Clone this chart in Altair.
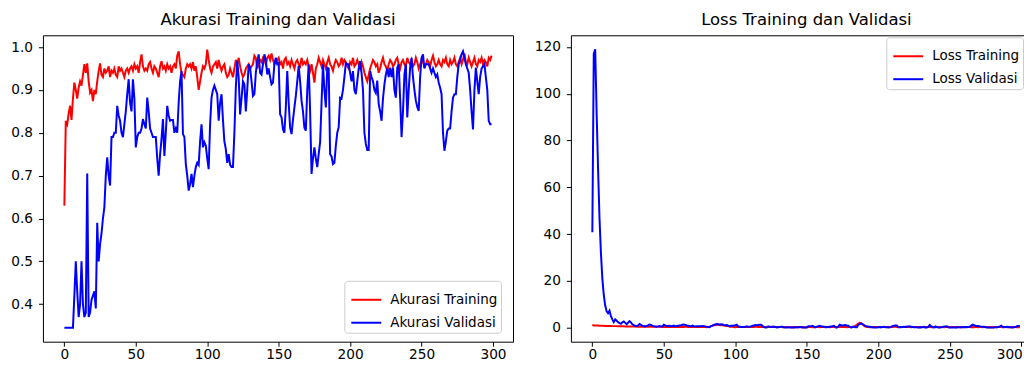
import altair as alt
import pandas as pd

# ---------------- data ----------------
acc_train = [
    0.63, 0.828, 0.82, 0.845, 0.863, 0.83, 0.88, 0.917, 0.90, 0.88,
    0.905, 0.92, 0.91, 0.935, 0.96, 0.94, 0.962, 0.92, 0.894, 0.90,
    0.874, 0.90, 0.89, 0.92, 0.944, 0.962, 0.935, 0.93, 0.95, 0.94,
    0.945, 0.955, 0.93, 0.945, 0.94, 0.95, 0.935, 0.93, 0.955, 0.945,
    0.95, 0.94, 0.93, 0.945, 0.95, 0.94, 0.95, 0.955, 0.945, 0.96,
    0.95, 0.955, 0.94, 0.965, 0.983, 0.955, 0.945, 0.95, 0.945, 0.96,
    0.965, 0.95, 0.94, 0.955, 0.95, 0.94, 0.93, 0.955, 0.967, 0.95,
    0.955, 0.945, 0.96, 0.95, 0.955, 0.94, 0.955, 0.96, 0.95, 0.98,
    0.99, 0.96, 0.94, 0.935, 0.93, 0.95, 0.96, 0.955, 0.96, 0.95,
    0.965, 0.945, 0.955, 0.93, 0.90, 0.92, 0.94, 0.955, 0.95, 0.96,
    0.994, 0.97, 0.95, 0.94, 0.955, 0.96, 0.965, 0.95, 0.97, 0.955,
    0.945, 0.955, 0.96, 0.94, 0.93, 0.935, 0.95, 0.94, 0.93, 0.95,
    0.97, 0.96, 0.975, 0.955, 0.94, 0.93, 0.936, 0.95, 0.955, 0.96,
    0.95, 0.955, 0.96, 0.98, 0.975, 0.95, 0.96, 0.97, 0.965, 0.975,
    0.97, 0.96, 0.975, 0.98, 0.97, 0.985, 0.97, 0.96, 0.965, 0.97,
    0.975, 0.96, 0.965, 0.95, 0.97, 0.975, 0.96, 0.965, 0.955, 0.97,
    0.96, 0.95, 0.965, 0.97, 0.96, 0.955, 0.975, 0.96, 0.965, 0.96,
    0.97, 0.955, 0.945, 0.96, 0.94, 0.917, 0.95, 0.96, 0.975, 0.965,
    0.955, 0.97, 0.96, 0.95, 0.965, 0.975, 0.96, 0.955, 0.945, 0.96,
    0.97, 0.965, 0.955, 0.96, 0.975, 0.96, 0.97, 0.965, 0.955, 0.95,
    0.965, 0.96, 0.975, 0.955, 0.96, 0.97, 0.96, 0.95, 0.965, 0.955,
    0.94, 0.93, 0.92, 0.935, 0.95, 0.96, 0.97, 0.965, 0.955, 0.96,
    0.94, 0.95, 0.965, 0.975, 0.96, 0.955, 0.945, 0.96, 0.97, 0.965,
    0.955, 0.96, 0.97, 0.975, 0.96, 0.95, 0.965, 0.97, 0.96, 0.955,
    0.975, 0.965, 0.96, 0.97, 0.955, 0.96, 0.975, 0.965, 0.95, 0.96,
    0.97, 0.965, 0.955, 0.96, 0.97, 0.965, 0.955, 0.97, 0.98, 0.965,
    0.955, 0.96, 0.97, 0.96, 0.955, 0.97, 0.965, 0.975, 0.96, 0.955,
    0.97, 0.96, 0.965, 0.975, 0.96, 0.955, 0.965, 0.975, 0.96, 0.97,
    0.985, 0.965, 0.96, 0.975, 0.965, 0.955, 0.965, 0.975, 0.96, 0.955,
    0.97, 0.965, 0.975, 0.96, 0.97, 0.965, 0.955, 0.975, 0.97, 0.98,
]

acc_val = [
    0.345, 0.345, 0.345, 0.345, 0.345, 0.345, 0.345, 0.42, 0.50, 0.43,
    0.37, 0.40, 0.50, 0.40, 0.37, 0.38, 0.705, 0.37, 0.38, 0.41,
    0.42, 0.43, 0.39, 0.59, 0.50, 0.54, 0.565, 0.60, 0.626, 0.70,
    0.743, 0.70, 0.677, 0.79, 0.79, 0.80, 0.80, 0.863, 0.84, 0.828,
    0.80, 0.79, 0.82, 0.85, 0.89, 0.925, 0.87, 0.85, 0.925, 0.88,
    0.766, 0.79, 0.80, 0.80, 0.81, 0.832, 0.82, 0.81, 0.882, 0.85,
    0.81, 0.80, 0.79, 0.79, 0.79, 0.74, 0.70, 0.75, 0.785, 0.832,
    0.746, 0.80, 0.863, 0.84, 0.828, 0.83, 0.83, 0.80, 0.81, 0.80,
    0.87, 0.92, 0.944, 0.797, 0.79, 0.727, 0.70, 0.665, 0.68, 0.704,
    0.673, 0.70, 0.72, 0.73, 0.725, 0.78, 0.82, 0.766, 0.778, 0.77,
    0.74, 0.715, 0.82, 0.882, 0.90, 0.91, 0.90, 0.89, 0.828, 0.87,
    0.89, 0.83, 0.78, 0.762, 0.73, 0.75, 0.725, 0.72, 0.72, 0.80,
    0.905, 0.968, 0.929, 0.843, 0.88, 0.92, 0.913, 0.85, 0.90, 0.96,
    0.952, 0.92, 0.886, 0.89, 0.94, 0.967, 0.983, 0.94, 0.936, 0.96,
    0.983, 0.97, 0.936, 0.95, 0.93, 0.913, 0.917, 0.96, 0.975, 0.96,
    0.963, 0.843, 0.836, 0.808, 0.80, 0.86, 0.944, 0.87, 0.812, 0.797,
    0.83, 0.859, 0.886, 0.92, 0.956, 0.92, 0.875, 0.85, 0.812, 0.805,
    0.90, 0.96, 0.85, 0.704, 0.74, 0.766, 0.74, 0.72, 0.75, 0.778,
    0.87, 0.96, 0.90, 0.859, 0.952, 0.95, 0.75, 0.745, 0.727, 0.73,
    0.77, 0.80, 0.813, 0.882, 0.88, 0.90, 0.93, 0.963, 0.96, 0.96,
    0.94, 0.92, 0.944, 0.90, 0.89, 0.92, 0.95, 0.967, 0.94, 0.90,
    0.80, 0.774, 0.76, 0.76, 0.944, 0.93, 0.92, 0.90, 0.893, 0.922,
    0.867, 0.85, 0.828, 0.88, 0.913, 0.936, 0.95, 0.93, 0.952, 0.93,
    0.952, 0.90, 0.882, 0.952, 0.96, 0.88, 0.79, 0.85, 0.936, 0.96,
    0.836, 0.90, 0.952, 0.975, 0.93, 0.90, 0.875, 0.86, 0.851, 0.93,
    0.975, 0.983, 0.95, 0.96, 0.96, 0.96, 0.95, 0.94, 0.95, 0.94,
    0.93, 0.936, 0.917, 0.905, 0.89, 0.80, 0.758, 0.78, 0.805, 0.81,
    0.81, 0.85, 0.882, 0.89, 0.89, 0.93, 0.96, 0.97, 0.983, 0.99,
    0.975, 0.96, 0.95, 0.94, 0.90, 0.85, 0.808, 0.90, 0.952, 0.92,
    0.89, 0.93, 0.95, 0.955, 0.96, 0.93, 0.90, 0.828, 0.82, 0.82,
]

loss_train = [
    1.2, 1.0, 1.0, 0.95, 0.95, 0.9, 0.9, 0.85, 0.85, 0.8,
    0.8, 0.8, 0.75, 0.75, 0.7, 0.7, 0.7, 0.7, 0.65, 0.65,
    0.6, 0.6, 0.6, 0.55, 0.55, 0.55, 0.5, 0.5, 0.5, 0.5,
    0.5, 0.45, 0.5, 0.45, 0.45, 0.45, 0.5, 0.45, 0.4, 0.45,
    0.45, 0.4, 0.45, 0.4, 0.4, 0.45, 0.4, 0.4, 0.4, 0.35,
    0.4, 0.35, 0.4, 0.35, 0.3, 0.35, 0.4, 0.35, 0.4, 0.35,
    0.35, 0.35, 0.4, 0.35, 0.35, 0.4, 0.4, 0.35, 0.3, 0.35,
    0.35, 0.35, 0.3, 0.35, 0.35, 0.4, 0.35, 0.3, 0.35, 0.3,
    0.25, 0.3, 0.4, 0.6, 0.9, 1.1, 1.2, 1.3, 1.4, 1.2,
    1.1, 1.2, 1.0, 0.9, 0.8, 0.7, 0.5, 0.4, 0.4, 0.35,
    0.25, 0.3, 0.35, 0.4, 0.35, 0.3, 0.3, 0.35, 0.3, 0.35,
    0.35, 0.35, 0.3, 0.35, 0.4, 0.4, 0.35, 0.35, 0.4, 0.35,
    0.3, 0.3, 0.25, 0.3, 0.35, 0.4, 0.4, 0.35, 0.3, 0.3,
    0.3, 0.3, 0.3, 0.25, 0.25, 0.3, 0.3, 0.25, 0.25, 0.25,
    0.25, 0.3, 0.25, 0.25, 0.25, 0.2, 0.25, 0.3, 0.25, 0.25,
    0.25, 0.3, 0.3, 0.3, 0.25, 0.25, 0.3, 0.3, 0.3, 0.25,
    0.3, 0.3, 0.3, 0.25, 0.3, 0.3, 0.25, 0.3, 0.3, 0.3,
    0.25, 0.3, 0.3, 0.3, 0.35, 0.4, 0.3, 0.3, 0.25, 0.3,
    0.3, 0.25, 0.3, 0.4, 0.8, 1.3, 1.8, 2.1, 1.9, 1.4,
    0.9, 0.5, 0.35, 0.3, 0.25, 0.3, 0.25, 0.3, 0.3, 0.3,
    0.3, 0.3, 0.25, 0.3, 0.3, 0.25, 0.3, 0.3, 0.3, 0.3,
    0.35, 0.4, 0.4, 0.35, 0.3, 0.3, 0.25, 0.3, 0.3, 0.3,
    0.35, 0.3, 0.3, 0.25, 0.3, 0.3, 0.3, 0.3, 0.25, 0.3,
    0.3, 0.3, 0.25, 0.25, 0.3, 0.3, 0.3, 0.25, 0.3, 0.3,
    0.25, 0.3, 0.3, 0.25, 0.3, 0.3, 0.25, 0.3, 0.3, 0.3,
    0.25, 0.3, 0.3, 0.3, 0.25, 0.3, 0.3, 0.25, 0.2, 0.3,
    0.3, 0.3, 0.25, 0.3, 0.3, 0.25, 0.3, 0.25, 0.3, 0.3,
    0.25, 0.3, 0.3, 0.25, 0.3, 0.3, 0.3, 0.25, 0.3, 0.25,
    0.2, 0.3, 0.3, 0.25, 0.3, 0.3, 0.3, 0.25, 0.3, 0.3,
    0.25, 0.3, 0.25, 0.3, 0.25, 0.3, 0.3, 0.25, 0.25, 0.2,
]

loss_val = [
    40.8, 117, 119, 92, 68, 47, 32, 21, 14, 9.5,
    7.0, 6.2, 7.3, 5.0, 3.6, 2.4, 3.6, 3.0, 2.4, 2.0,
    1.7, 2.3, 2.7, 2.1, 1.5, 2.2, 2.8, 2.3, 1.5, 1.1,
    0.9, 0.8, 1.0, 1.6, 1.2, 0.8, 0.7, 0.6, 0.8, 1.0,
    1.4, 1.2, 0.8, 0.7, 0.5, 0.4, 0.6, 0.7, 0.5, 0.6,
    1.3, 1.0, 0.8, 0.8, 0.9, 0.7, 0.8, 0.9, 0.6, 0.8,
    0.9, 1.0, 1.1, 1.3, 1.4, 1.2, 1.0, 0.9, 0.8, 0.6,
    0.9, 0.7, 0.5, 0.6, 0.6, 0.6, 0.7, 0.8, 0.7, 0.6,
    0.4, 0.3, 0.2, 0.8, 0.9, 1.2, 1.4, 1.6, 1.5, 1.3,
    1.5, 1.4, 1.2, 1.1, 1.2, 0.9, 0.6, 0.9, 0.9, 1.0,
    1.1, 1.3, 0.6, 0.4, 0.3, 0.3, 0.3, 0.4, 0.6, 0.4,
    0.4, 0.6, 0.9, 1.0, 1.2, 1.1, 1.2, 1.3, 1.3, 0.8,
    0.3, 0.1, 0.2, 0.6, 0.4, 0.3, 0.3, 0.5, 0.3, 0.1,
    0.2, 0.3, 0.4, 0.4, 0.2, 0.1, 0.1, 0.2, 0.2, 0.1,
    0.1, 0.1, 0.2, 0.2, 0.2, 0.3, 0.3, 0.1, 0.1, 0.1,
    0.1, 0.6, 0.6, 0.7, 0.8, 0.5, 0.2, 0.5, 0.7, 0.8,
    0.6, 0.5, 0.4, 0.3, 0.2, 0.3, 0.4, 0.5, 0.7, 0.8,
    0.3, 0.1, 0.5, 1.3, 1.1, 0.9, 1.1, 1.2, 1.0, 0.9,
    0.4, 0.1, 0.3, 0.5, 0.2, 0.2, 1.2, 1.6, 1.9, 1.6,
    1.1, 0.8, 0.7, 0.4, 0.4, 0.3, 0.2, 0.1, 0.1, 0.1,
    0.2, 0.3, 0.2, 0.3, 0.4, 0.3, 0.2, 0.1, 0.2, 0.3,
    0.8, 0.9, 1.0, 1.0, 0.2, 0.2, 0.3, 0.3, 0.4, 0.3,
    0.5, 0.5, 0.6, 0.4, 0.3, 0.2, 0.2, 0.2, 0.1, 0.2,
    0.1, 0.3, 0.4, 0.1, 0.1, 0.4, 1.2, 0.6, 0.2, 0.1,
    0.6, 0.3, 0.1, 0.1, 0.2, 0.3, 0.5, 0.5, 0.6, 0.2,
    0.1, 0.1, 0.2, 0.1, 0.1, 0.1, 0.2, 0.2, 0.2, 0.2,
    0.3, 0.2, 0.3, 0.3, 0.4, 0.9, 1.3, 1.1, 0.9, 0.8,
    0.8, 0.6, 0.4, 0.4, 0.4, 0.2, 0.1, 0.1, 0.1, 0.1,
    0.1, 0.1, 0.2, 0.2, 0.3, 0.6, 0.9, 0.3, 0.2, 0.3,
    0.4, 0.3, 0.2, 0.2, 0.1, 0.2, 0.3, 0.7, 0.8, 0.8,
]

epochs = list(range(len(acc_train)))

acc_labels = ["Akurasi Training", "Akurasi Validasi"]
loss_labels = ["Loss Training", "Loss Validasi"]
line_colors = ["#ff0000", "#0000ff"]
x_ticks = [0, 50, 100, 150, 200, 250, 300]
acc_ticks = [0.4, 0.5, 0.6, 0.7, 0.8, 0.9, 1.0]
loss_ticks = [0, 20, 40, 60, 80, 100, 120]

n = len(epochs)
acc_df = pd.DataFrame({
    "epoch": epochs + epochs,
    "value": acc_train + acc_val,
    "series": [acc_labels[0]] * n + [acc_labels[1]] * n,
})
loss_df = pd.DataFrame({
    "epoch": epochs + epochs,
    "value": loss_train + loss_val,
    "series": [loss_labels[0]] * n + [loss_labels[1]] * n,
})

FONT = "DejaVu Sans"
PH = 307
TICK_FS = 13.7


def make_title(text, dx=0):
    return alt.TitleParams(
        text, font=FONT, fontSize=16.5, fontWeight="normal", color="black",
        anchor="middle", frame="group", offset=6.5, baseline="top", dx=dx,
    )


def make_legend(lx, ly):
    return alt.Legend(
        title=None, orient="none", legendX=lx, legendY=ly,
        symbolType="stroke", symbolSize=900, symbolStrokeWidth=2,
        symbolOffset=3,
        labelFont=FONT, labelFontSize=13.5, labelColor="black",
        labelOffset=8, rowPadding=-2, padding=3,
        fillColor="rgba(255,255,255,0.8)", strokeColor="#cccccc",
        cornerRadius=3,
    )


def x_axis(**kw):
    return alt.Axis(values=x_ticks, format="d", title=None, labelPadding=1, **kw)


# ---------- left panel: accuracy ----------
left = alt.Chart(acc_df, title=make_title("Akurasi Training dan Validasi")).mark_line(
    strokeWidth=2, clip=True
).encode(
    x=alt.X("epoch:Q",
            scale=alt.Scale(domain=[-15, 314], nice=False, zero=False),
            axis=x_axis()),
    y=alt.Y("value:Q",
            scale=alt.Scale(domain=[0.3125, 1.0275], nice=False, zero=False),
            axis=alt.Axis(values=acc_ticks, format=".1f", title=None,
                          labelPadding=6, minExtent=34, maxExtent=34)),
    color=alt.Color("series:N",
                    scale=alt.Scale(domain=acc_labels, range=line_colors),
                    legend=make_legend(302, 246)),
).properties(width=471, height=PH)

# ---------- right panel: loss (runs to the page edge, like the reference) ----------
loss_x_scale = alt.Scale(domain=[-15, 301.9], nice=False, zero=False)
loss_y_scale = alt.Scale(domain=[-5.95, 124.95], nice=False, zero=False)

loss_lines = alt.Chart(loss_df).mark_line(strokeWidth=2, clip=True).encode(
    x=alt.X("epoch:Q", scale=loss_x_scale,
            axis=x_axis(domain=True, domainColor="black", domainWidth=1,
                        labelFlush=4, labelFlushOffset=1)),
    y=alt.Y("value:Q", scale=loss_y_scale,
            axis=alt.Axis(values=loss_ticks, format="d", title=None,
                          labelPadding=6, minExtent=36, maxExtent=36,
                          domain=True, domainColor="black", domainWidth=1)),
    color=alt.Color("series:N",
                    scale=alt.Scale(domain=loss_labels, range=line_colors),
                    legend=make_legend(316, 2)),
)

loss_top = alt.Chart(loss_df).mark_point(opacity=0).encode(
    x=alt.X("epoch:Q", scale=loss_x_scale,
            axis=alt.Axis(orient="top", labels=False, ticks=False, title=None,
                          domain=True, domainColor="black", domainWidth=1)),
)

right = alt.layer(
    loss_lines, loss_top, title=make_title("Loss Training dan Validasi", dx=9)
).resolve_axis(
    x="independent"
).properties(width=454, height=PH, view=alt.ViewConfig(strokeOpacity=0))

chart = alt.hconcat(left, right, spacing=20).resolve_scale(
    color="independent"
).configure(
    padding={"left": 0, "top": 3, "right": 0, "bottom": 0},
    background="white",
).configure_view(
    stroke="black", strokeWidth=1,
).configure_axis(
    grid=False, domain=False, ticks=True, tickSize=4.5, tickColor="black",
    tickWidth=1, labelFont=FONT, labelFontSize=TICK_FS, labelColor="black",
)

chart.save("out.html", embed_options={"renderer": "svg", "actions": False})
